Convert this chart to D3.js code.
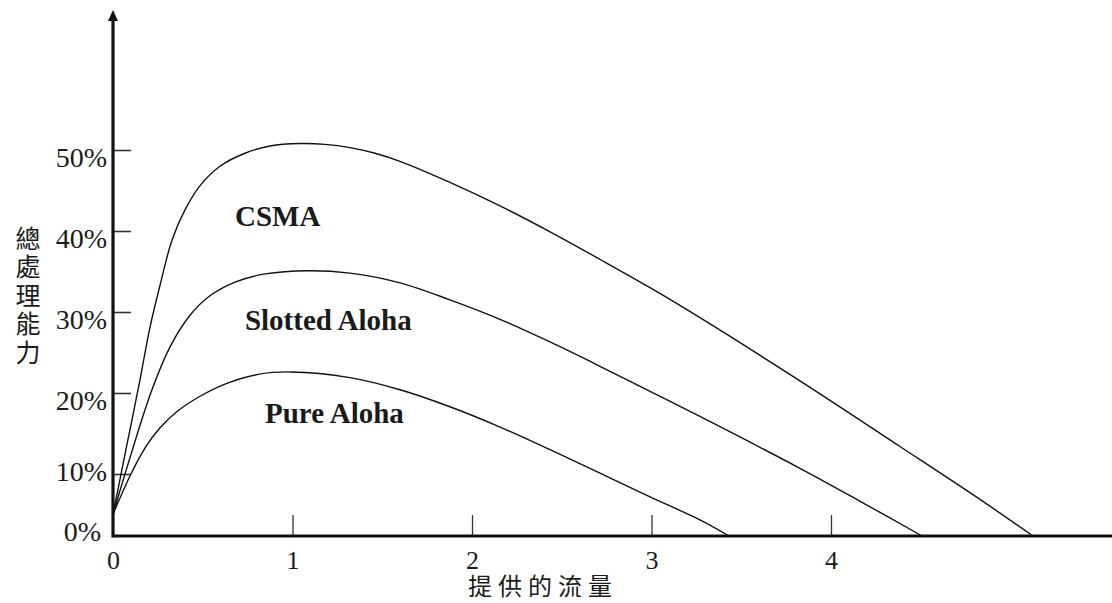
<!DOCTYPE html>
<html><head><meta charset="utf-8">
<script src="https://cdn.jsdelivr.net/npm/d3@7"></script>
<style>body{margin:0;background:#fff}</style>
</head><body>
<svg id="chart" width="1112" height="603"></svg>
<script>
// ---- data ----
const xTickValues = [0, 1, 2, 3, 4];
const yTickValues = [0, 10, 20, 30, 40, 50];
const seriesNames = ["CSMA", "Slotted Aloha", "Pure Aloha"];
const csmaX = [0, 0.072, 0.150, 0.206, 0.262, 0.329, 0.401, 0.485, 0.596, 0.735, 0.875, 1.042, 1.181, 1.320, 1.460, 1.599, 1.877, 2.156, 2.435, 2.713, 2.992, 3.270, 3.827, 4.384, 4.830, 5.125];
const csmaY = [3.5, 13.0, 21.6, 28.1, 33.3, 38.9, 42.6, 45.6, 48.0, 49.6, 50.5, 50.8, 50.7, 50.3, 49.6, 48.6, 46.0, 43.1, 39.9, 36.5, 33.0, 29.3, 21.5, 13.4, 5.9, 0];
const slottedX = [0, 0.067, 0.212, 0.318, 0.429, 0.540, 0.680, 0.847, 1.086, 1.320, 1.599, 1.877, 2.156, 2.435, 2.713, 2.992, 3.270, 3.827, 4.162, 4.507];
const slottedY = [3.5, 10.0, 20.1, 25.7, 29.6, 32.0, 33.7, 34.7, 35.1, 34.8, 33.6, 31.5, 29.1, 26.3, 23.3, 20.2, 17.1, 10.7, 5.6, 0];
const pureX = [0, 0.100, 0.178, 0.262, 0.362, 0.485, 0.624, 0.808, 0.992, 1.320, 1.599, 1.877, 2.156, 2.435, 2.713, 2.992, 3.270, 3.432];
const pureY = [3.5, 10.0, 13.2, 15.7, 17.8, 19.6, 21.1, 22.3, 22.6, 21.9, 20.4, 18.3, 15.8, 13.0, 10.1, 6.3, 2.6, 0];
const labelX = [0.68, 0.735, 0.847];
const labelY = [40.6, 27.8, 16.3];
const xTitle = "提供的流量";
const yTitle = "總處理能力";

// ---- layout ----
const W = 1112, H = 603;
const svg = d3.select("#chart");
const x = d3.scaleLinear().domain([0, 4]).range([113, 831]);
const y = d3.scaleLinear().domain([0, 10, 50]).range([536, 474, 150]);
const serif = "'Liberation Serif','Times New Roman',serif";
const cjk = "'Noto Sans CJK TC','Noto Sans CJK SC',sans-serif";
const ink = "#1a1a1a";

// y axis (ticks pointing right)
const yAxis = d3.axisLeft(y).tickValues(yTickValues).tickSizeInner(-18).tickSizeOuter(0)
  .tickPadding(6).tickFormat(d => d + "%");
const gy = svg.append("g").attr("transform", `translate(${x(0)},0)`).call(yAxis);
gy.select(".domain").remove();
gy.selectAll(".tick line").attr("stroke", "#333").attr("stroke-width", 1.6);
gy.selectAll(".tick text").attr("font-family", serif).attr("font-size", 28)
  .attr("fill", ink).attr("dy", null)
  .attr("y", d => d >= 20 ? 16 : (d === 10 ? 6 : 4))
  .attr("x", d => d === 0 ? -12 : -6);
gy.selectAll(".tick").filter(d => d === 0).select("line").remove();

// x axis (ticks pointing up)
const xAxis = d3.axisBottom(x).tickValues(xTickValues).tickSizeInner(-21).tickSizeOuter(0)
  .tickFormat(d3.format("d"));
const gx = svg.append("g").attr("transform", `translate(0,${y(0)})`).call(xAxis);
gx.select(".domain").remove();
gx.selectAll(".tick line").attr("stroke", "#333").attr("stroke-width", 1.3);
gx.selectAll(".tick").filter(d => d === 0).select("line").remove();
gx.selectAll(".tick text").attr("font-family", serif).attr("font-size", 26)
  .attr("fill", ink).attr("dy", null).attr("y", 33);

// axis lines
svg.append("line").attr("x1", x(0)).attr("x2", W).attr("y1", y(0)).attr("y2", y(0))
  .attr("stroke", "#111").attr("stroke-width", 3.2);
svg.append("line").attr("x1", x(0)).attr("x2", x(0)).attr("y1", y(0) + 1.5).attr("y2", 16)
  .attr("stroke", "#111").attr("stroke-width", 3.2);
svg.append("path")
  .attr("d", `M${x(0)},10 L${x(0) - 5},21 L${x(0) + 5},21 Z`)
  .attr("fill", "#111");

// curves
const seriesData = [
  csmaX.map((v, i) => [v, csmaY[i]]),
  slottedX.map((v, i) => [v, slottedY[i]]),
  pureX.map((v, i) => [v, pureY[i]])
];
const line = d3.line().x(d => x(d[0])).y(d => y(d[1])).curve(d3.curveCatmullRom.alpha(0.5));
svg.append("g").selectAll("path").data(seriesData).join("path")
  .attr("d", line).attr("fill", "none").attr("stroke", "#111").attr("stroke-width", 1.4);

// series labels
svg.append("g").selectAll("text").data(seriesNames).join("text")
  .attr("x", (d, i) => x(labelX[i])).attr("y", (d, i) => y(labelY[i]))
  .attr("font-family", serif).attr("font-weight", "bold").attr("font-size", 29)
  .attr("fill", ink).text(d => d);

// axis titles
svg.append("text").attr("x", 543).attr("y", 595).attr("text-anchor", "middle")
  .attr("font-family", cjk).attr("font-size", 24).attr("letter-spacing", 6)
  .attr("fill", ink).text(xTitle);
svg.append("text").attr("x", 28).attr("y", 226)
  .style("writing-mode", "vertical-rl")
  .attr("font-family", cjk).attr("font-size", 25).attr("letter-spacing", 3.4)
  .attr("fill", ink).text(yTitle);
</script>
</body></html>
